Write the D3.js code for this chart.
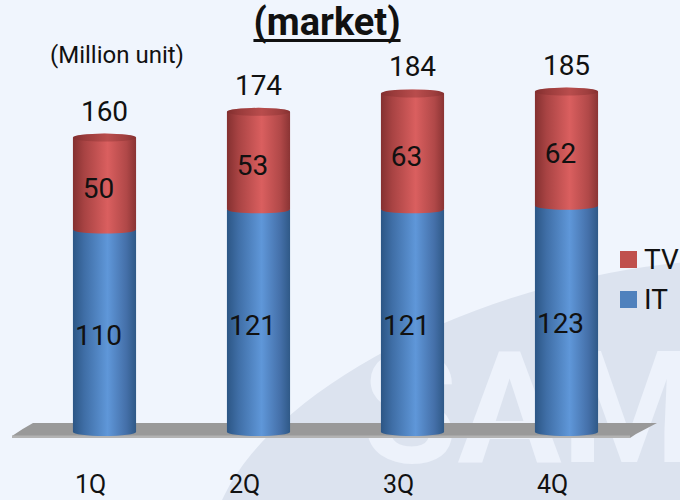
<!DOCTYPE html>
<html>
<head>
<meta charset="utf-8">
<script src="https://cdn.jsdelivr.net/npm/d3@7"></script>
<style>
  html, body { margin: 0; padding: 0; background: #f0f5fd; }
  svg { display: block; }
  text { font-family: Roboto, "Noto Sans", sans-serif; fill: #111; }
</style>
</head>
<body>
<svg id="chart" width="680" height="500"></svg>
<script>
// Quarterly shipments, million units
const quarters = ["1Q", "2Q", "3Q", "4Q"];
const itValues = [110, 121, 121, 123];
const tvValues = [50, 53, 63, 62];
const seriesNames = ["IT", "TV"];
const legendOrder = ["TV", "IT"];
const titleText = "(market)";
const unitText = "(Million unit)";

const rows = quarters.map((q, i) => ({ quarter: q, IT: itValues[i], TV: tvValues[i] }));

const W = 680, H = 500;
const svg = d3.select("#chart");
const bg = "#f0f5fd";

const colors = { IT: "#4f81bd", TV: "#c0504d" };
const shades = {
  IT: [["0%", "#2c5685"], ["18%", "#3f6ea6"], ["55%", "#5f97d9"], ["85%", "#446fa8"], ["100%", "#2f5987"]],
  TV: [["0%", "#843030"], ["18%", "#a84343"], ["55%", "#da5f5f"], ["85%", "#b04848"], ["100%", "#8a3434"]]
};

const defs = svg.append("defs");
seriesNames.forEach(name => {
  const g = defs.append("linearGradient").attr("id", "grad-" + name)
    .attr("x1", "0%").attr("x2", "100%").attr("y1", "0%").attr("y2", "0%");
  shades[name].forEach(([o, c]) => g.append("stop").attr("offset", o).attr("stop-color", c));
});

// background and faint logo watermark
svg.append("rect").attr("width", W).attr("height", H).attr("fill", bg);
defs.append("clipPath").attr("id", "wm-clip")
  .append("ellipse").attr("cx", 600).attr("cy", 470).attr("rx", 400).attr("ry", 190)
  .attr("transform", "rotate(-15 600 470)");
const wm = svg.append("g").attr("clip-path", "url(#wm-clip)");
wm.append("rect").attr("width", W).attr("height", H).attr("fill", "#dce3ef");
wm.append("text").attr("x", 362).attr("y", 462)
  .attr("font-family", "DejaVu Sans").attr("font-weight", "bold").attr("font-size", 155)
  .style("fill", bg).attr("opacity", 0.85).text("SAMSUNG");

// scales
const x = d3.scaleBand().domain(quarters).range([27.5, 643.5]).paddingInner(0.59).paddingOuter(0.295);
const y = d3.scaleLinear().domain([0, 200]).range([432, 64]);
const bw = x.bandwidth();
const capRy = 4;

// floor slab
const floorTop = 423, floorBot = 438;
svg.append("path")
  .attr("d", `M12,${floorBot - 2} Q22,${floorTop + 6} 33,${floorTop} L657,${floorTop} L636,${floorBot - 4} L630,${floorBot} L12,${floorBot} Z`)
  .attr("fill", "#999999");
svg.append("rect").attr("x", 12).attr("y", floorBot - 2.5).attr("width", 618).attr("height", 2.5)
  .attr("fill", "#b3b3b3");

// stacked cylinders
const stack = d3.stack().keys(seriesNames)(rows);

const bars = svg.append("g");
stack.forEach(layer => {
  const name = layer.key;
  const g = bars.append("g");
  layer.forEach(d => {
    const x0 = x(d.data.quarter);
    const yTop = y(d[1]), yBot = y(d[0]);
    // body with rounded bottom edge
    g.append("path")
      .attr("d", `M${x0},${yTop} L${x0 + bw},${yTop} L${x0 + bw},${yBot} A${bw / 2},${capRy} 0 0 1 ${x0},${yBot} Z`)
      .attr("fill", `url(#grad-${name})`);
  });
});

// top caps on the upper series
const topLayer = stack[stack.length - 1];
topLayer.forEach(d => {
  const cx = x(d.data.quarter) + bw / 2, cy = y(d[1]);
  bars.append("ellipse").attr("cx", cx).attr("cy", cy).attr("rx", bw / 2).attr("ry", capRy)
    .attr("fill", "url(#grad-TV)");
  bars.append("ellipse").attr("cx", cx).attr("cy", cy).attr("rx", bw / 2).attr("ry", capRy)
    .attr("fill", "#7a2a2a").attr("opacity", 0.35);
});

// segment value labels
stack.forEach(layer => {
  layer.forEach(d => {
    bars.append("text")
      .attr("x", x(d.data.quarter) + bw / 2 - 6)
      .attr("y", (y(d[0]) + y(d[1])) / 2 + 5)
      .attr("text-anchor", "middle").attr("dominant-baseline", "central")
      .attr("font-size", 28)
      .text(d[1] - d[0]);
  });
});

// totals above each cylinder
topLayer.forEach(d => {
  svg.append("text")
    .attr("x", x(d.data.quarter) + bw / 2)
    .attr("y", y(d[1]) - 17)
    .attr("text-anchor", "middle").attr("font-size", 28)
    .text(d[1]);
});

// category axis labels
svg.append("g").selectAll("text").data(quarters).join("text")
  .attr("x", q => x(q) + bw / 2 - 14)
  .attr("y", 493)
  .attr("text-anchor", "middle").attr("font-size", 25)
  .text(q => q);

// title with underline
const title = svg.append("text").attr("x", 327).attr("y", 35)
  .attr("text-anchor", "middle").attr("font-size", 38).attr("font-weight", "bold")
  .text(titleText);
const tw = title.node().getComputedTextLength();
svg.append("rect").attr("x", 327 - tw / 2).attr("y", 39).attr("width", tw).attr("height", 3)
  .attr("fill", "#111");

// unit note
svg.append("text").attr("x", 50).attr("y", 63).attr("font-size", 24).text(unitText);

// legend
const legend = svg.append("g").selectAll("g").data(legendOrder).join("g")
  .attr("transform", (d, i) => `translate(620, ${251 + i * 40})`);
legend.append("rect").attr("width", 17).attr("height", 17).attr("fill", d => colors[d]);
legend.append("text").attr("x", 24).attr("y", 18).attr("font-size", 28).text(d => d);
</script>
</body>
</html>
